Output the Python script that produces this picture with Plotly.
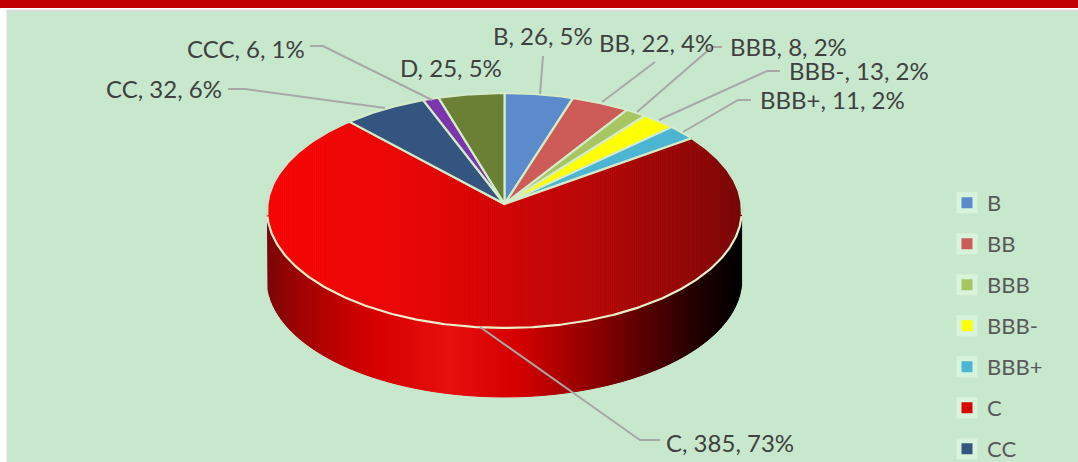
import math
import plotly.graph_objects as go

# ---- data
categories = ["B", "BB", "BBB", "BBB-", "BBB+", "C", "CC", "CCC", "D"]
values = [26, 22, 8, 13, 11, 385, 32, 6, 25]
percents = [5, 4, 2, 2, 2, 73, 6, 1, 5]
colors = ["#5b8bcb", "#cd5b58", "#a7c561", "#ffff00", "#4bb5d2", "#d80404", "#34557f", "#7b35ad", "#6a8035"]
legend_categories = ["B", "BB", "BBB", "BBB-", "BBB+", "C", "CC"]

# ---- label layout (pixel positions on the hidden axes)
label_x = [491, 597, 728, 787, 758, 664, 104, 185, 398]
label_y = [35, 42, 46, 70, 99, 442, 88, 48, 67]
leader_x = [[543, 540], [655, 602], [722, 712, 637], [780, 767, 659], [751, 738, 683],
            [660, 640, 480], [228, 245, 385], [310, 323, 432], []]
leader_y = [[56, 94], [62, 102], [47, 47, 112], [71, 71, 120], [100, 100, 132],
            [440, 440, 327], [89, 89, 108], [46, 46, 100], []]

# ---- pie projection
CX, CY, RX, RY, K, DEPTH = 504.5, 204, 237, 117.1, 0.0553, 69
TEXT = "#404040"
EDGE = "#d3ebc9"
BACK_EDGE = "#c8e8cd"
RIM = "#e9eecb"
FONT = "Lato"
TOP_STOPS = [(267, "#f70505"), (400, "#ea0606"), (500, "#d20505"), (600, "#b40707"), (700, "#8e0707"), (742, "#780505")]
SIDE_STOPS = [(267, "#7a0808"), (300, "#a00404"), (370, "#d40000"), (450, "#e81010"), (520, "#d40000"),
              (575, "#a00000"), (640, "#5e0000"), (700, "#200000"), (741, "#000000")]


def project(theta, z=0.0):
    u, v = math.sin(theta), math.cos(theta)
    d = 1 + K * v
    return CX + RX * u / d, CY - RY * v / d + z


def arc(a0, a1, z=0.0, step=0.01):
    n = max(2, int(abs(a1 - a0) / step))
    return [project(a0 + (a1 - a0) * i / n, z) for i in range(n + 1)]


def clip(poly, xlim, keep_right):
    out = []
    for i, p in enumerate(poly):
        q = poly[(i + 1) % len(poly)]
        pin = p[0] >= xlim if keep_right else p[0] <= xlim
        qin = q[0] >= xlim if keep_right else q[0] <= xlim
        if pin:
            out.append(p)
        if pin != qin:
            t = (xlim - p[0]) / (q[0] - p[0])
            out.append((xlim, p[1] + t * (q[1] - p[1])))
    return out


def shade(stops, x):
    for (x0, c0), (x1, c1) in zip(stops, stops[1:]):
        if x <= x1:
            t = max(0, (x - x0) / (x1 - x0))
            ch = [round(int(c0[i:i + 2], 16) * (1 - t) + int(c1[i:i + 2], 16) * t) for i in (1, 3, 5)]
            return "rgb(%d,%d,%d)" % tuple(ch)
    return stops[-1][1]


def poly_trace(poly, color, name, line_color=None, width=1.0):
    xs = [p[0] for p in poly] + [poly[0][0]]
    ys = [p[1] for p in poly] + [poly[0][1]]
    return go.Scatter(x=xs, y=ys, mode="lines", fill="toself", fillcolor=color, name=name,
                      line=dict(color=line_color or color, width=width), showlegend=False, hoverinfo="skip")


def edge_trace(points, color, name):
    return go.Scatter(x=[p[0] for p in points], y=[p[1] for p in points], mode="lines",
                      line=dict(color=color, width=2.2), showlegend=False, hoverinfo="skip", name=name)


def strips(poly, stops, name):
    x0 = min(p[0] for p in poly)
    x1 = max(p[0] for p in poly)
    x = x0
    out = []
    while x < x1:
        piece = clip(clip(poly, x, True), x + 2, False)
        if len(piece) > 2:
            out.append(poly_trace(piece, shade(stops, x + 1), name))
        x += 2
    return out


fig = go.Figure()
total = sum(values)
edges = [0.0]
for val in values:
    edges.append(edges[-1] + val / total * 2 * math.pi)

# side wall of the largest slice
big = values.index(max(values))
sweep = [edges[big] + (edges[big + 1] - edges[big]) * i / 400 for i in range(401)]
front = [t for t in sweep if math.cos(t) < -0.1]
side = [project(t) for t in front] + [project(t, DEPTH) for t in reversed(front)]
for tr in strips(side, SIDE_STOPS, categories[big]):
    fig.add_trace(tr)

# top faces
for i, cat in enumerate(categories):
    poly = [(CX, CY)] + arc(edges[i], edges[i + 1])
    if i == big:
        for tr in strips(poly, TOP_STOPS, cat):
            fig.add_trace(tr)
        fig.add_trace(edge_trace([project(t) for t in sweep if t < front[0]], BACK_EDGE, cat))
        fig.add_trace(edge_trace([project(t) for t in sweep if t > front[-1]], BACK_EDGE, cat))
        fig.add_trace(edge_trace([project(edges[i + 1]), (CX, CY), project(edges[i])], EDGE, cat))
        fig.add_trace(edge_trace([project(t) for t in front], RIM, cat))
    else:
        fig.add_trace(poly_trace(poly, colors[i], cat, EDGE, 2.2))

# leader lines
for lx, ly in zip(leader_x, leader_y):
    if lx:
        fig.add_trace(go.Scatter(x=lx, y=ly, mode="lines", line=dict(color="#a8a8a8", width=2),
                                 showlegend=False, hoverinfo="skip"))

# legend entries
for cat in legend_categories:
    fig.add_trace(go.Scatter(x=[None], y=[None], mode="markers", name=cat, legendgroup=cat,
                             marker=dict(symbol="square", size=16, color=colors[categories.index(cat)],
                                         line=dict(color="#d8f3dc", width=5))))

annotations = [dict(x=lx, y=ly, xref="x", yref="y", xanchor="left", yanchor="middle", showarrow=False,
                    text=f"{c}, {v}, {p}%", font=dict(family=FONT, size=24, color=TEXT))
               for c, v, p, lx, ly in zip(categories, values, percents, label_x, label_y)]

shapes = [
    dict(type="rect", xref="x", yref="y", x0=7.5, x1=1090, y0=10.5, y1=480, fillcolor="#c8e8cd",
         line=dict(color="#dcdcdc", width=2), layer="below"),
    dict(type="rect", xref="x", yref="y", x0=0, x1=1078, y0=0, y1=8, fillcolor="#c00000",
         line=dict(width=0), layer="below"),
]

fig.update_layout(
    width=1078, height=462, margin=dict(l=0, r=0, t=0, b=0, autoexpand=False),
    paper_bgcolor="#ffffff", plot_bgcolor="rgba(0,0,0,0)",
    xaxis=dict(range=[0, 1078], visible=False, fixedrange=True),
    yaxis=dict(range=[462, 0], visible=False, fixedrange=True),
    showlegend=True,
    legend=dict(x=947 / 1078, y=1 - 182 / 462, xanchor="left", yanchor="top", bgcolor="rgba(0,0,0,0)",
                font=dict(family=FONT, size=22, color="#595959"), tracegroupgap=9.4, itemwidth=30),
    annotations=annotations, shapes=shapes,
)
fig.write_html("out.html", config=dict(displayModeBar=False),
               post_script="document.body.style.margin='0';document.body.style.overflow='hidden';")
